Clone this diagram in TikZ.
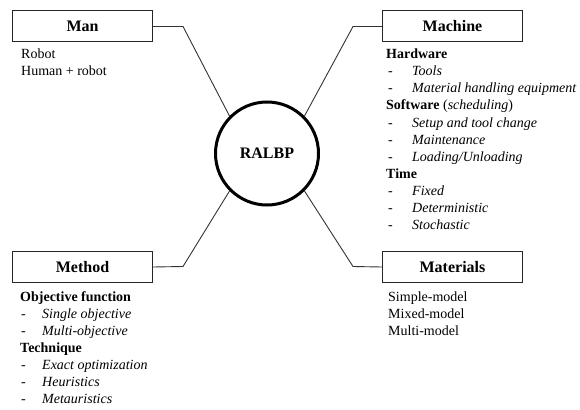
\documentclass[tikz,border=0pt]{standalone}
\usepackage{fontspec}
\setmainfont{Liberation Serif}[BoldFont={Liberation Serif Bold}, ItalicFont={Liberation Serif Italic}, BoldItalicFont={Liberation Serif Bold Italic}]
\newcommand{\ditem}[5]{\node[txt] (#1d) at (#2,#4) {-}; \node[itxt] (#1) at (#3,#4) {#5};}
\begin{document}
\begin{tikzpicture}[x=1pt,y=-1pt,
  title/.style={draw=black!85, line width=1pt, minimum width=140pt, minimum height=31pt, inner sep=0pt, font=\fontsize{16}{19}\selectfont\bfseries},
  txt/.style={anchor=base west, inner sep=0pt, font=\fontsize{14}{17}\selectfont},
  itxt/.style={txt, font=\fontsize{14}{17}\selectfont\itshape},
  btxt/.style={txt, font=\fontsize{14}{17}\selectfont\bfseries},
  conn/.style={draw=black!80, line width=0.9pt}]
\useasboundingbox (0,0) rectangle (580,409);
% hub
\node[circle, draw, line width=3pt, minimum size=103pt, inner sep=0pt,
  font=\fontsize{16}{19}\selectfont\bfseries] (c) at (267,153.5) {RALBP};
% boxes
\node[title] (man) at (82.5,26.5) {Man};
\node[title] (mach) at (452.5,26.5) {Machine};
\node[title] (meth) at (82.5,267) {Method};
\node[title] (mat) at (452.5,267) {Materials};
% elbows
\coordinate (eman) at (183,26.5);
\coordinate (emach) at (353,26.5);
\coordinate (emeth) at (183,266.5);
\coordinate (emat) at (353,266.5);
\draw[conn] (man.east) -- (eman) -- (c.135);
\draw[conn] (mach.west) -- (emach) -- (c.45);
\draw[conn] (meth.east) -- (emeth) -- (c.225);
\draw[conn] (mat.west) -- (emat) -- (c.315);
% Man
\node[txt] (m1) at (21,59) {Robot};
\node[txt] (m2) at (21,76) {Human + robot};
% Machine
\node[btxt] (h1) at (386,59) {Hardware};
\ditem{h2}{388}{412}{76}{Tools}
\ditem{h3}{388}{412}{93}{Material handling equipment}
\node[txt] (s1) at (386,110) {\textbf{Software} (\textit{scheduling})};
\ditem{s2}{388}{412}{127}{Setup and tool change}
\ditem{s3}{388}{412}{144}{Maintenance}
\ditem{s4}{388}{412}{161}{Loading/Unloading}
\node[btxt] (t1) at (386,178) {Time};
\ditem{t2}{388}{412}{195}{Fixed}
\ditem{t3}{388}{412}{212}{Deterministic}
\ditem{t4}{388}{412}{229}{Stochastic}
% Method
\node[btxt] (o1) at (20,301) {Objective function};
\ditem{o2}{21}{42}{318}{Single objective}
\ditem{o3}{21}{42}{335}{Multi-objective}
\node[btxt] (q1) at (20,352) {Technique};
\ditem{q2}{21}{42}{369}{Exact optimization}
\ditem{q3}{21}{42}{386}{Heuristics}
\ditem{q4}{21}{42}{403}{Metauristics}
% Materials
\node[txt] (a1) at (388,301) {Simple-model};
\node[txt] (a2) at (388,318) {Mixed-model};
\node[txt] (a3) at (388,335) {Multi-model};
\end{tikzpicture}
\end{document}
